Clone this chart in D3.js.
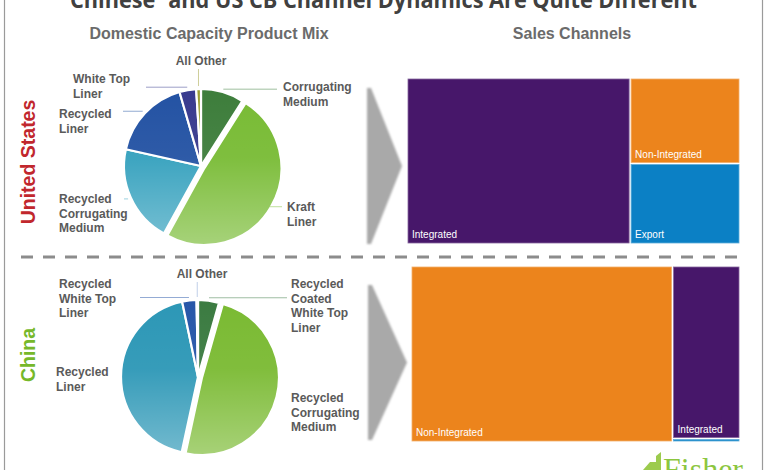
<!DOCTYPE html>
<html>
<head>
<meta charset="utf-8">
<script src="https://cdn.jsdelivr.net/npm/d3@7"></script>
<style>
  body { margin: 0; background: #fff; }
  svg { display: block; font-family: 'Liberation Sans', Arial, sans-serif; }
</style>
</head>
<body>
<div id="chart"></div>
<script>
// product mix, clockwise from 12 o'clock (share of domestic capacity, %)
const usMixLabels = ['Corrugating Medium', 'Kraft Liner', 'Recycled Corrugating Medium', 'Recycled Liner', 'White Top Liner', 'All Other']
const usMixValues = [9, 49, 20.5, 17, 3.5, 1]
const cnMixLabels = ['Recycled Coated White Top Liner', 'Recycled Corrugating Medium', 'Recycled Liner', 'Recycled White Top Liner', 'All Other']
const cnMixValues = [4.4, 49, 43.3, 3, 0.3]

// sales channels (%)
const channelLabels = ['Integrated', 'Non-Integrated', 'Export']
const usChannelValues = [67, 17, 16]
const cnChannelValues = [20.1, 79.5, 0.4]

const width = 780
const height = 470

const sliceColor = {
  'Corrugating Medium': '#3d7d3b',
  'Kraft Liner': '#78bb34',
  'Recycled Corrugating Medium': '#33a0bd',
  'Recycled Liner': '#2352a3',
  'White Top Liner': '#383a8e',
  'All Other': '#9c9f34',
  'Recycled Coated White Top Liner': '#3b7b41'
}
const cnSliceColor = Object.assign({}, sliceColor, {
  'Recycled Corrugating Medium': '#7aba32',
  'Recycled Liner': '#2c97b6',
  'Recycled White Top Liner': '#2756a8',
  'All Other': '#7f9fcf'
})
const channelColor = { 'Integrated': '#47176a', 'Non-Integrated': '#ec841c', 'Export': '#0b80c5' }

// label placement for each pie
const usLabelLayout = {
  'All Other': { x: 201, y: 65, anchor: 'middle', lines: ['All Other'], leader: 'v' },
  'White Top Liner': { x: 73, y: 83, anchor: 'start', lines: ['White Top', 'Liner'], leader: 'h', lx: 146 },
  'Recycled Liner': { x: 59, y: 118, anchor: 'start', lines: ['Recycled', 'Liner'], leader: 'h', lx: 123 },
  'Recycled Corrugating Medium': { x: 59, y: 203, anchor: 'start', lines: ['Recycled', 'Corrugating', 'Medium'], leader: 'h', lx: 124 },
  'Corrugating Medium': { x: 283, y: 91, anchor: 'start', lines: ['Corrugating', 'Medium'], leader: 'h', lx: 277 },
  'Kraft Liner': { x: 287, y: 211, anchor: 'start', lines: ['Kraft', 'Liner'], leader: 'h', lx: 282 }
}
const cnLabelLayout = {
  'All Other': { x: 202, y: 278, anchor: 'middle', lines: ['All Other'], leader: 'v' },
  'Recycled White Top Liner': { x: 59, y: 288, anchor: 'start', lines: ['Recycled', 'White Top', 'Liner'], leader: 'h', lx: 140 },
  'Recycled Coated White Top Liner': { x: 291, y: 288, anchor: 'start', lines: ['Recycled', 'Coated', 'White Top', 'Liner'], leader: 'h', lx: 287 },
  'Recycled Liner': { x: 56, y: 376, anchor: 'start', lines: ['Recycled', 'Liner'] },
  'Recycled Corrugating Medium': { x: 291, y: 402, anchor: 'start', lines: ['Recycled', 'Corrugating', 'Medium'] }
}

const svg = d3.select('#chart').append('svg')
  .attr('width', width)
  .attr('height', height)

const defs = svg.append('defs')
const gloss = defs.append('linearGradient').attr('id', 'gloss')
  .attr('x1', 0).attr('y1', 0).attr('x2', 0).attr('y2', 1)
gloss.append('stop').attr('offset', '0%').attr('stop-color', '#fff').attr('stop-opacity', 0)
gloss.append('stop').attr('offset', '45%').attr('stop-color', '#fff').attr('stop-opacity', 0.05)
gloss.append('stop').attr('offset', '100%').attr('stop-color', '#fff').attr('stop-opacity', 0.35)
defs.append('filter').attr('id', 'soft')
  .append('feGaussianBlur').attr('stdDeviation', 0.8)

// frame
svg.append('line').attr('x1', 4.5).attr('x2', 4.5).attr('y1', 0).attr('y2', height)
  .attr('stroke', '#9a9a9a').attr('stroke-width', 1.2)
svg.append('line').attr('x1', 762.5).attr('x2', 762.5).attr('y1', 0).attr('y2', height)
  .attr('stroke', '#9a9a9a').attr('stroke-width', 1.2)

// title (cut at top as in source)
const title = svg.append('text')
  .attr('x', 70).attr('y', 8)
  .attr('font-family', "'Open Sans', sans-serif")
  .attr('font-weight', 700)
  .attr('font-size', 24)
  .attr('fill', '#404040')
  .attr('textLength', 627)
  .attr('lengthAdjust', 'spacingAndGlyphs')
title.append('tspan').text('Chinese')
title.append('tspan').attr('font-size', 14).attr('dy', -9).text('1')
title.append('tspan').attr('dy', 9).text(' and US CB Channel Dynamics Are Quite Different')

svg.append('text').attr('x', 209).attr('y', 39)
  .attr('text-anchor', 'middle').attr('font-size', 16).attr('font-weight', 700)
  .attr('fill', '#6b6b6b').text('Domestic Capacity Product Mix')
svg.append('text').attr('x', 572).attr('y', 39)
  .attr('text-anchor', 'middle').attr('font-size', 16).attr('font-weight', 700)
  .attr('fill', '#6b6b6b').text('Sales Channels')

// country labels
svg.append('text').attr('transform', 'translate(35,162) rotate(-90)')
  .attr('text-anchor', 'middle').attr('font-size', 19.5).attr('font-weight', 700)
  .attr('fill', '#c1272d').text('United States')
svg.append('text').attr('transform', 'translate(35,355) rotate(-90)')
  .attr('text-anchor', 'middle').attr('font-size', 19.5).attr('font-weight', 700)
  .attr('fill', '#76b82a').text('China')

// dashed separator
svg.append('line').attr('x1', 21).attr('x2', 741).attr('y1', 257).attr('y2', 257)
  .attr('stroke', '#8c8c8c').attr('stroke-width', 3).attr('stroke-dasharray', '12 10')

// chevrons
function chevron (x0, y0, x1, y1) {
  const ym = (y0 + y1) / 2
  svg.append('path')
    .attr('d', `M${x0},${y0}L${x0 + 4},${y0}L${x1},${ym}L${x0 + 4},${y1}L${x0},${y1}Z`)
    .attr('fill', '#a9a9a9')
    .attr('filter', 'url(#soft)')
}
chevron(367, 88, 402, 244)
chevron(368, 285, 407, 440)

function drawPie (labels, values, colors, layout, cx, cy, r, explodeName) {
  const data = labels.map((name, i) => ({ name, value: values[i] }))
  const pie = d3.pie().sort(null).value(d => d.value)
  const arc = d3.arc().innerRadius(0).outerRadius(r)
  const arcs = pie(data)
  const g = svg.append('g').attr('transform', `translate(${cx},${cy})`)
  g.selectAll('path.slice').data(arcs).enter().append('path')
    .attr('class', 'slice')
    .attr('d', arc)
    .attr('fill', d => colors[d.data.name])
    .attr('stroke', '#fff')
    .attr('stroke-width', 2.2)
    .attr('stroke-linejoin', 'round')
    .attr('transform', d => {
      if (d.data.name !== explodeName) return null
      const a = (d.startAngle + d.endAngle) / 2
      return `translate(${4 * Math.sin(a)},${-4 * Math.cos(a)})`
    })
  g.append('circle').attr('r', r + 4).attr('fill', 'url(#gloss)').attr('pointer-events', 'none')

  // leaders and labels
  arcs.forEach(d => {
    const L = layout[d.data.name]
    if (!L) return
    const a = (d.startAngle + d.endAngle) / 2
    const px = cx + (r + 3) * Math.sin(a)
    const py = cy - (r + 3) * Math.cos(a)
    const lineColor = d3.interpolateRgb(colors[d.data.name], '#fff')(0.45)
    if (L.leader === 'h') {
      svg.append('line').attr('x1', px).attr('y1', py).attr('x2', L.lx).attr('y2', py)
        .attr('stroke', lineColor).attr('stroke-width', 0.9)
    } else if (L.leader === 'v') {
      svg.append('line').attr('x1', px).attr('y1', py).attr('x2', px).attr('y2', L.y + 4)
        .attr('stroke', lineColor).attr('stroke-width', 0.9)
    }
    const t = svg.append('text')
      .attr('x', L.x).attr('y', L.y)
      .attr('text-anchor', L.anchor)
      .attr('font-size', 12).attr('font-weight', 700).attr('fill', '#5a5a5a')
    L.lines.forEach((s, i) => {
      t.append('tspan').attr('x', L.x).attr('dy', i === 0 ? 0 : 14.5).text(s)
    })
  })
}

drawPie(usMixLabels, usMixValues, sliceColor, usLabelLayout, 201, 166, 77, 'Kraft Liner')
drawPie(cnMixLabels, cnMixValues, cnSliceColor, cnLabelLayout, 198, 377, 77, 'Recycled Corrugating Medium')

function drawTreemap (values, x, y, w, h) {
  const root = d3.hierarchy({ children: channelLabels.map((name, i) => ({ name, value: values[i] })) })
    .sum(d => d.value || 0)
    .sort((a, b) => b.value - a.value)
  d3.treemap().tile(d3.treemapBinary).size([w, h]).paddingInner(2)(root)
  const g = svg.append('g').attr('transform', `translate(${x},${y})`)
  const cell = g.selectAll('g').data(root.leaves()).enter().append('g')
  cell.append('rect')
    .attr('x', d => d.x0).attr('y', d => d.y0)
    .attr('width', d => d.x1 - d.x0).attr('height', d => Math.max(d.y1 - d.y0, 0))
    .attr('fill', d => channelColor[d.data.name])
    .attr('stroke', d => d3.interpolateRgb(channelColor[d.data.name], '#fff')(0.35))
    .attr('stroke-width', 0.8)
  cell.filter(d => d.y1 - d.y0 > 15).append('text')
    .attr('x', d => d.x0 + 4)
    .attr('y', d => d.y1 - 5)
    .attr('font-size', 10).attr('fill', '#fff')
    .text(d => d.data.name)
}

drawTreemap(usChannelValues, 408, 79, 331, 164)
drawTreemap(cnChannelValues, 412, 267, 327, 174)

// logo, cut at the bottom
svg.append('path')
  .attr('d', 'M643,470L650,462L656,462L656,456L661,452L661,470Z')
  .attr('fill', '#9ccb4e')
svg.append('text').attr('x', 663).attr('y', 480)
  .attr('font-family', "'Liberation Serif', serif")
  .attr('font-size', 32).attr('fill', '#8cc63f')
  .text('Fisher')
</script>
</body>
</html>
